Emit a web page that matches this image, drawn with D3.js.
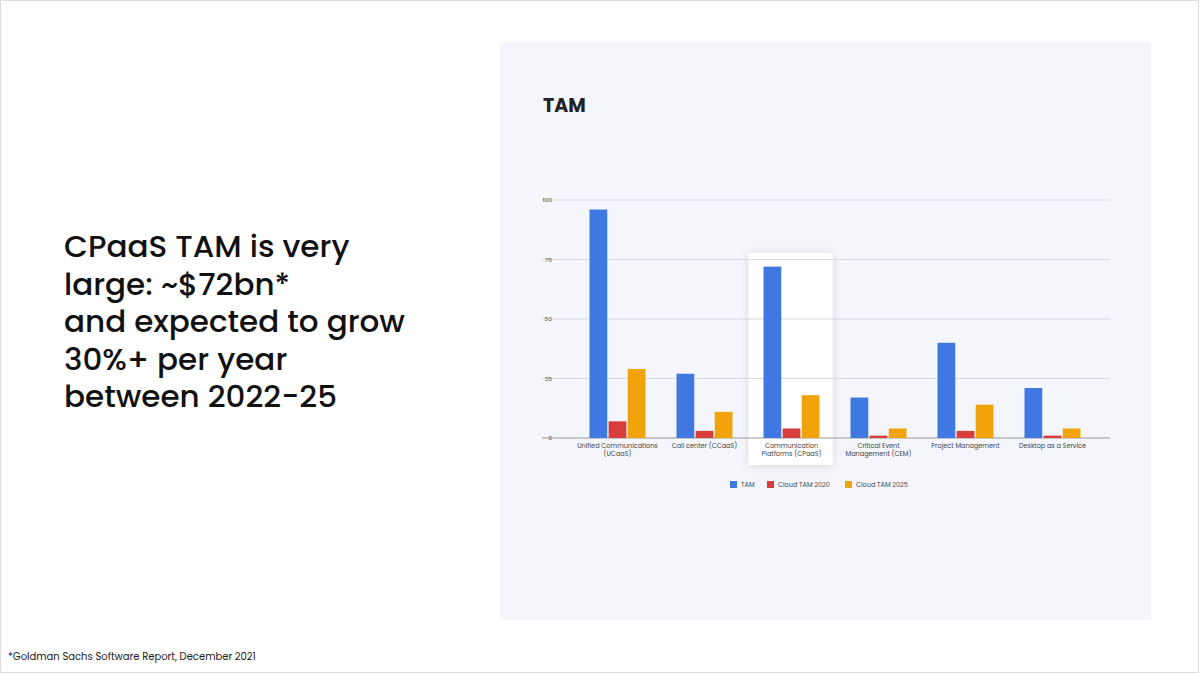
<!DOCTYPE html><html><head><meta charset="utf-8"><script src="https://cdn.jsdelivr.net/npm/d3@7"></script>
<style>body{margin:0;background:#fff;font-family:Poppins,"Noto Sans",sans-serif}</style></head><body><svg id="c" width="1200" height="675"></svg>
<script>
const categories=[["Unified Communications","(UCaaS)"],["Call center (CCaaS)"],["Communication","Platforms (CPaaS)"],["Critical Event","Management (CEM)"],["Project Management"],["Desktop as a Service"]];
const seriesNames=["TAM","Cloud TAM 2020","Cloud TAM 2025"];
const colors=["#3f78e0","#d93f3a","#f0a30a"];
const tam=[96,27,72,17,40,21];
const cloud2020=[7,3,4,1,3,1];
const cloud2025=[29,11,18,4,14,4];
const yTicks=[0,25,50,75,100];
const series=[tam,cloud2020,cloud2025];
const svg=d3.select("#c");
const defs=svg.append("defs");
const f=defs.append("filter").attr("id","sh").attr("x","-30%").attr("y","-30%").attr("width","160%").attr("height","160%");
f.append("feDropShadow").attr("dx",0).attr("dy",1).attr("stdDeviation",4).attr("flood-color","#000").attr("flood-opacity",0.12);
svg.append("rect").attr("x",0.5).attr("y",0.5).attr("width",1198).attr("height",672).attr("fill","#fff").attr("stroke","#ddd");
svg.append("rect").attr("x",500).attr("y",42).attr("width",651).attr("height",578).attr("fill","#f4f6fc");
svg.append("text").attr("x",543).attr("y",112).text("TAM").attr("font-size",19).attr("font-weight",700).attr("fill","#222");
const lines=["CPaaS TAM is very","large: ~$72bn*","and expected to grow","30%+ per year","between 2022-25"];
svg.append("g").selectAll("text").data(lines).join("text").attr("x",64).attr("y",(d,i)=>257+i*37.5).text(d=>d).attr("font-size",31).attr("font-weight",500).attr("fill","#111");
svg.append("text").attr("x",8).attr("y",660).text("*Goldman Sachs Software Report, December 2021").attr("font-size",10).attr("fill","#222");
const x=d3.scaleBand().domain(d3.range(categories.length)).range([574,1096]).paddingInner(0);
const y=d3.scaleLinear().domain([0,100]).range([438,200]);
const hb=x(2);
svg.append("rect").attr("x",hb+0.5).attr("y",253).attr("width",x.bandwidth()-3).attr("height",212).attr("fill","#fff").attr("filter","url(#sh)");
const g=svg.append("g");
g.selectAll("line.grid").data(yTicks).join("line").attr("x1",542).attr("x2",1110).attr("y1",d=>y(d)).attr("y2",d=>y(d)).attr("stroke",d=>d===0?"#999":"#d6d9e0").attr("stroke-width",1);
g.selectAll("text.yt").data(yTicks).join("text").attr("x",552).attr("y",d=>y(d)+2).attr("text-anchor","end").attr("font-size",6).attr("fill","#555").text(d=>d);
const inner=d3.scaleBand().domain([0,1,2]).range([0,56]).paddingInner(0.07);
series.forEach((s,si)=>{
 g.selectAll("rect.s"+si).data(s).join("rect").attr("x",(d,i)=>x(i)+x.bandwidth()/2-28+inner(si)).attr("width",inner.bandwidth()).attr("y",d=>y(d)).attr("height",d=>y(0)-y(d)).attr("fill",colors[si]);
});
categories.forEach((c,i)=>{
 const t=g.append("text").attr("x",x(i)+x.bandwidth()/2).attr("y",448).attr("text-anchor","middle").attr("font-size",6.5).attr("fill","#444");
 c.forEach((l,j)=>t.append("tspan").attr("x",x(i)+x.bandwidth()/2).attr("dy",j?8:0).text(l));
});
const lg=svg.append("g");
const lx=[730,767,845];
seriesNames.forEach((n,i)=>{
 lg.append("rect").attr("x",lx[i]).attr("y",481).attr("width",7).attr("height",7).attr("fill",colors[i]);
 lg.append("text").attr("x",lx[i]+11).attr("y",487).attr("font-size",6.5).attr("fill","#444").text(n);
});
</script></body></html>
